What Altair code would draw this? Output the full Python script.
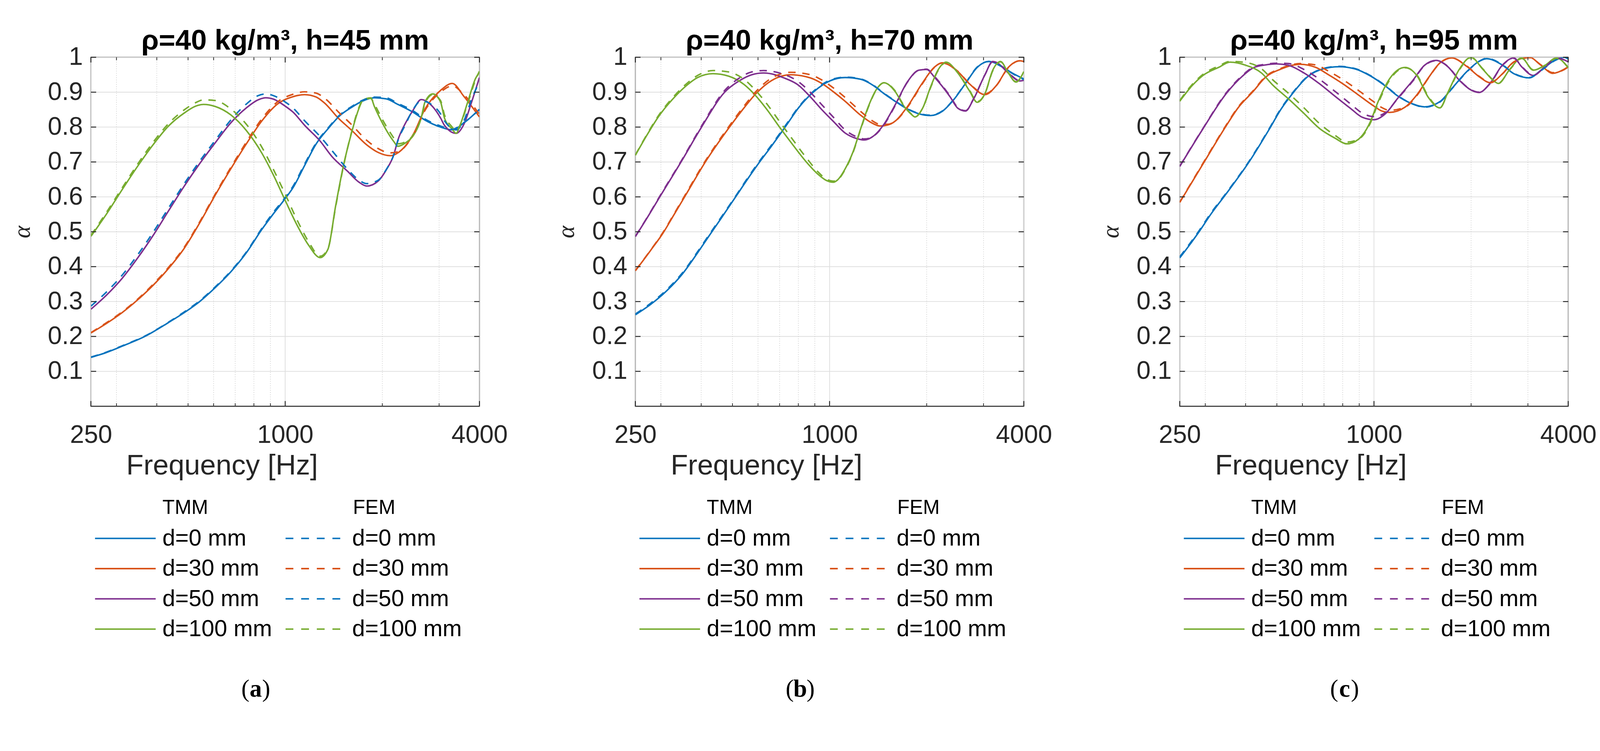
import altair as alt
import pandas as pd

BLUE, ORANGE, PURPLE, GREEN = "#0072BD", "#D95319", "#7E2F8E", "#77AC30"
INK = "#262626"
SANS = "Liberation Sans"
SERIF = "Liberation Serif"

X_TICKS = [250, 1000, 4000]
X_MINOR = [300, 400, 500, 600, 700, 800, 900, 2000, 3000]
Y_TICKS = [0.1, 0.2, 0.3, 0.4, 0.5, 0.6, 0.7, 0.8, 0.9, 1.0]

D_LABELS = ["d=0 mm", "d=30 mm", "d=50 mm", "d=100 mm"]
TITLES = ["ρ=40 kg/m³, h=45 mm", "ρ=40 kg/m³, h=70 mm", "ρ=40 kg/m³, h=95 mm"]
LETTERS = ["a", "b", "c"]
TMM_COLORS = [BLUE, ORANGE, PURPLE, GREEN]
# panel (a) draws the FEM d=50 mm curve in blue
FEM_COLORS = [[BLUE, ORANGE, BLUE, GREEN],
              [BLUE, ORANGE, PURPLE, GREEN],
              [BLUE, ORANGE, PURPLE, GREEN]]

# ---- (a) h=45 mm ----
A_F_D0 = [250, 279, 312, 369, 435, 486, 543, 607, 678, 758, 847, 920, 1000, 1057, 1149, 1248, 1357, 1474,
          1602, 1741, 1892, 2056, 2234, 2497, 2713, 3031, 3294, 3580, 4000]
A_TMM_D0 = [.140, .154, .172, .201, .240, .268, .300, .340, .385, .440, .507, .552, .595, .626, .690, .752, .795,
            .832, .856, .875, .884, .881, .865, .842, .820, .800, .792, .812, .851]
A_FEM_D0 = [.141, .155, .173, .202, .241, .270, .302, .342, .387, .442, .510, .556, .598, .630, .694, .755, .797,
            .834, .858, .877, .886, .884, .868, .846, .823, .803, .794, .813, .850]

A_F_D30 = [250, 279, 312, 349, 390, 435, 486, 543, 607, 678, 758, 847, 946, 1057, 1149, 1248, 1320, 1474, 1602,
           1790, 1945, 2114, 2234, 2497, 2713, 3031, 3294, 3580, 4000]
A_TMM_D30 = [.210, .237, .268, .305, .347, .395, .452, .525, .605, .680, .752, .818, .866, .887, .893, .886, .870,
             .822, .792, .749, .727, .718, .726, .780, .852, .905, .925, .888, .829]
A_FEM_D30 = [.211, .239, .270, .307, .350, .398, .455, .528, .608, .684, .757, .824, .872, .894, .901, .897, .884,
             .840, .808, .762, .738, .726, .729, .778, .848, .900, .918, .893, .836]

A_F_D50 = [250, 279, 312, 349, 390, 435, 486, 543, 607, 678, 758, 824, 871, 920, 1000, 1057, 1149, 1283, 1395,
           1558, 1694, 1790, 1945, 2056, 2173, 2234, 2362, 2497, 2639, 2868, 3031, 3117, 3387, 3580, 3784, 4000]
A_TMM_D50 = [.278, .318, .366, .425, .490, .560, .630, .695, .755, .812, .855, .878, .884, .880, .860, .843, .805,
             .760, .716, .674, .642, .631, .646, .677, .722, .762, .812, .850, .879, .858, .826, .805, .782, .808,
             .872, .942]
A_FEM_D50 = [.287, .327, .375, .434, .499, .568, .637, .702, .762, .820, .866, .890, .895, .890, .872, .855, .818,
             .773, .733, .680, .648, .638, .648, .678, .722, .760, .808, .852, .875, .862, .838, .818, .792, .818,
             .880, .930]

A_F_D100 = [250, 279, 312, 349, 390, 435, 486, 528, 558, 607, 678, 758, 847, 920, 1000, 1087, 1181, 1283, 1357,
            1434, 1516, 1602, 1694, 1741, 1840, 1892, 2000, 2173, 2234, 2362, 2497, 2639, 2713, 2868, 3031, 3117,
            3294, 3387, 3482, 3680, 3890, 4000]
A_TMM_D100 = [.487, .550, .620, .688, .750, .803, .840, .860, .865, .859, .835, .790, .725, .662, .590, .520, .462,
              .426, .450, .575, .690, .780, .854, .877, .884, .858, .812, .758, .745, .755, .776, .826, .872, .895,
              .872, .826, .794, .782, .805, .872, .939, .957]
A_FEM_D100 = [.490, .555, .625, .694, .757, .810, .849, .870, .878, .876, .852, .808, .742, .678, .608, .535, .472,
              .430, .452, .572, .688, .782, .857, .878, .882, .865, .822, .768, .752, .758, .778, .826, .868, .893,
              .876, .835, .800, .788, .805, .868, .935, .960]

# ---- (b) h=70 mm ----
B_F_D0 = [250, 279, 312, 349, 390, 423, 460, 514, 558, 607, 660, 737, 801, 895, 1000, 1117, 1248, 1357, 1474,
          1602, 1741, 1892, 2056, 2234, 2428, 2639, 2868, 3117, 3387, 3680, 4000]
B_TMM_D0 = [.262, .292, .330, .378, .440, .488, .537, .603, .652, .700, .745, .807, .855, .902, .932, .942, .937,
            .921, .896, .873, .852, .838, .833, .845, .879, .925, .971, .988, .976, .955, .938]
B_FEM_D0 = [.264, .295, .333, .381, .443, .491, .540, .605, .655, .703, .748, .810, .857, .904, .934, .943, .938,
            .922, .897, .874, .853, .839, .834, .846, .880, .926, .972, .988, .975, .954, .936]

B_F_D30 = [250, 279, 304, 330, 358, 412, 486, 543, 590, 660, 758, 871, 946, 1028, 1117, 1248, 1357, 1434, 1516,
           1602, 1741, 1945, 2114, 2234, 2497, 2713, 3031, 3294, 3580, 3890, 4000]
B_TMM_D30 = [.388, .447, .495, .550, .605, .700, .796, .855, .895, .933, .950, .941, .925, .901, .874, .834, .811,
             .803, .806, .818, .858, .928, .972, .984, .959, .924, .893, .920, .971, .990, .988]
B_FEM_D30 = [.389, .448, .497, .552, .608, .703, .800, .860, .901, .940, .957, .950, .935, .912, .885, .845, .818,
             .808, .808, .818, .856, .926, .971, .984, .960, .925, .895, .920, .970, .990, .989]

B_F_D50 = [250, 272, 295, 349, 401, 473, 528, 574, 624, 678, 717, 801, 871, 946, 1028, 1117, 1214, 1283, 1357,
           1474, 1602, 1741, 1892, 2000, 2114, 2362, 2497, 2639, 2790, 3031, 3204, 3294, 3580, 3890, 4000]
B_TMM_D50 = [.486, .540, .594, .705, .800, .900, .934, .950, .955, .950, .942, .920, .887, .850, .816, .783, .767,
             .763, .772, .808, .866, .929, .963, .965, .943, .887, .854, .846, .879, .950, .988, .985, .955, .932,
             .934]
B_FEM_D50 = [.487, .541, .596, .707, .803, .905, .942, .958, .962, .958, .952, .930, .900, .864, .828, .792, .772,
             .766, .772, .806, .864, .928, .963, .966, .945, .889, .856, .847, .880, .950, .987, .985, .956, .933,
             .935]

B_F_D100 = [250, 272, 295, 330, 358, 390, 435, 486, 543, 590, 641, 697, 758, 847, 920, 973, 1028, 1057, 1117,
            1181, 1248, 1320, 1395, 1474, 1602, 1694, 1790, 1840, 1945, 2056, 2173, 2297, 2497, 2713, 2868, 3031,
            3204, 3387, 3580, 3784, 4000]
B_TMM_D100 = [.719, .778, .830, .885, .917, .942, .953, .946, .922, .890, .849, .802, .757, .700, .665, .648, .642,
              .648, .680, .728, .795, .860, .907, .927, .900, .862, .837, .829, .855, .915, .965, .986, .955, .904,
              .871, .896, .963, .988, .955, .929, .959]
B_FEM_D100 = [.720, .780, .833, .889, .922, .948, .962, .958, .937, .905, .865, .818, .772, .712, .672, .652, .645,
              .648, .678, .726, .793, .858, .906, .927, .902, .864, .838, .830, .855, .913, .963, .985, .956, .906,
              .873, .896, .961, .987, .956, .930, .958]

# ---- (c) h=95 mm ----
C_F_D0 = [250, 272, 287, 312, 349, 412, 473, 514, 558, 624, 697, 779, 871, 973, 1087, 1181, 1320, 1434, 1602,
          1741, 1945, 2114, 2234, 2497, 2713, 3031, 3294, 3680, 3890, 4000]
C_TMM_D0 = [.425, .470, .500, .550, .610, .703, .793, .850, .895, .945, .967, .973, .967, .947, .917, .890, .866,
            .858, .873, .910, .960, .988, .996, .978, .953, .941, .963, .994, 1.0, .995]
C_FEM_D0 = [.428, .473, .503, .553, .612, .705, .795, .852, .897, .946, .968, .974, .968, .948, .918, .891, .866,
            .857, .872, .909, .959, .988, .997, .979, .954, .942, .962, .993, .999, .996]

C_F_D30 = [250, 295, 349, 379, 423, 460, 514, 558, 590, 660, 717, 801, 895, 1000, 1057, 1117, 1248, 1357, 1474,
           1602, 1741, 1945, 2114, 2297, 2497, 2713, 3031, 3294, 3580, 3890, 4000]
C_TMM_D30 = [.584, .694, .805, .855, .903, .942, .966, .977, .980, .971, .952, .924, .892, .860, .846, .842, .857,
             .892, .941, .984, .998, .973, .945, .927, .952, .987, 1.0, .977, .954, .966, .973]
C_FEM_D30 = [.585, .696, .807, .857, .905, .944, .968, .979, .982, .978, .962, .936, .905, .872, .856, .848, .857,
             .890, .940, .983, .998, .974, .946, .928, .952, .986, .999, .978, .956, .965, .972]

C_F_D50 = [250, 295, 349, 390, 423, 460, 500, 543, 607, 678, 758, 847, 920, 1000, 1087, 1181, 1320, 1434, 1558,
           1694, 1840, 2000, 2114, 2297, 2497, 2713, 2868, 3117, 3387, 3680, 4000]
C_TMM_D50 = [.687, .795, .897, .945, .970, .978, .981, .977, .955, .924, .888, .853, .828, .821, .839, .881, .934,
             .977, .991, .973, .934, .906, .899, .927, .977, .998, .973, .948, .973, .998, .987]
C_FEM_D50 = [.688, .796, .899, .947, .972, .980, .983, .982, .965, .937, .902, .866, .840, .830, .842, .880, .932,
             .976, .990, .974, .935, .907, .900, .926, .976, .997, .974, .949, .972, .997, .988]

C_F_D100 = [250, 272, 295, 330, 358, 401, 448, 486, 543, 607, 678, 758, 824, 895, 973, 1028, 1117, 1248, 1357,
            1474, 1602, 1694, 1840, 2000, 2173, 2362, 2428, 2639, 2868, 3117, 3387, 3680, 4000]
C_TMM_D100 = [.874, .917, .948, .971, .986, .977, .955, .920, .881, .839, .796, .768, .752, .765, .814, .871, .938,
              .971, .948, .885, .855, .899, .966, 1.0, .966, .931, .925, .966, .998, .963, .977, .998, .970]
C_FEM_D100 = [.876, .920, .951, .975, .988, .985, .967, .935, .897, .855, .810, .776, .757, .765, .810, .866, .934,
              .970, .950, .888, .856, .897, .964, .999, .967, .932, .926, .965, .997, .964, .976, .997, .971]

PANELS = [
    [(A_F_D0, A_TMM_D0, A_FEM_D0), (A_F_D30, A_TMM_D30, A_FEM_D30),
     (A_F_D50, A_TMM_D50, A_FEM_D50), (A_F_D100, A_TMM_D100, A_FEM_D100)],
    [(B_F_D0, B_TMM_D0, B_FEM_D0), (B_F_D30, B_TMM_D30, B_FEM_D30),
     (B_F_D50, B_TMM_D50, B_FEM_D50), (B_F_D100, B_TMM_D100, B_FEM_D100)],
    [(C_F_D0, C_TMM_D0, C_FEM_D0), (C_F_D30, C_TMM_D30, C_FEM_D30),
     (C_F_D50, C_TMM_D50, C_FEM_D50), (C_F_D100, C_TMM_D100, C_FEM_D100)],
]

W, H = 1044, 938
GAP = 150      # plot bottom -> legend block top
LH = 640       # legend block height
DASH = [20, 18]


def make_panel(i):
    rows, leg = [], []
    for k, (freqs, tmm, fem) in enumerate(PANELS[i]):
        lab = D_LABELS[k]
        for f, a in zip(freqs, tmm):
            rows.append(dict(f=f, alpha=a, method="TMM", series="TMM " + lab, color=TMM_COLORS[k]))
        for f, a in zip(freqs, fem):
            rows.append(dict(f=f, alpha=a, method="FEM", series="FEM " + lab, color=FEM_COLORS[i][k]))
        leg.append(dict(row=lab, label=lab, method="TMM", color=TMM_COLORS[k]))
        leg.append(dict(row=lab, label=lab, method="FEM", color=FEM_COLORS[i][k]))
    df = pd.DataFrame(rows)
    leg_df = pd.DataFrame(leg)
    ydf = pd.DataFrame({"v": Y_TICKS})
    xmaj = pd.DataFrame({"f": X_TICKS})
    xmin = pd.DataFrame({"f": X_MINOR})

    xs = alt.Scale(type="log", domain=[250, 4000], nice=False)
    ys = alt.Scale(domain=[0, 1], nice=False)

    # same axis spec in every layer so the merged axes stay enabled
    x_axis = alt.Axis(values=X_TICKS, format="d", labelFlush=False, labelOverlap=False,
                      labelFontSize=68, labelFont=SANS, labelColor=INK, labelPadding=44,
                      domain=False, ticks=False, grid=False,
                      title="Frequency [Hz]", titleFont=SANS, titleFontSize=76,
                      titleFontWeight="normal", titleColor=INK,
                      titleX=352, titleY=160, titleBaseline="middle")
    y_axis = alt.Axis(values=Y_TICKS, format=".1~f", labelFlush=False, labelOverlap=False,
                      labelFontSize=68, labelFont=SANS, labelColor=INK, labelPadding=22,
                      domain=False, ticks=False, grid=False,
                      title="α", titleFont=SERIF, titleFontStyle="italic", titleFontSize=64,
                      titleFontWeight="normal", titleColor=INK, titlePadding=36)
    X = alt.X("f:Q", scale=xs, axis=x_axis)
    YV = alt.Y("v:Q", scale=ys, axis=y_axis)

    ygrid = alt.Chart(ydf).mark_rule(color="#dedede", strokeWidth=2).encode(
        y=YV, x=alt.value(0), x2=alt.value(W))
    xgrid = alt.Chart(xmaj).mark_rule(color="#dedede", strokeWidth=2).encode(
        x=X, y=alt.value(0), y2=alt.value(H))
    xgrid_minor = alt.Chart(xmin).mark_rule(color="#c4c4c4", strokeWidth=1.5, strokeDash=[2, 4]).encode(
        x=X, y=alt.value(0), y2=alt.value(H))

    tick = dict(color=INK, strokeWidth=2.5)
    yt_l = alt.Chart(ydf).mark_rule(**tick).encode(y=YV, x=alt.value(0), x2=alt.value(14))
    yt_r = alt.Chart(ydf).mark_rule(**tick).encode(y=YV, x=alt.value(W - 14), x2=alt.value(W))
    xt_b = alt.Chart(xmaj).mark_rule(**tick).encode(x=X, y=alt.value(H - 14), y2=alt.value(H))
    xt_t = alt.Chart(xmaj).mark_rule(**tick).encode(x=X, y=alt.value(0), y2=alt.value(14))
    xm_b = alt.Chart(xmin).mark_rule(color=INK, strokeWidth=2).encode(x=X, y=alt.value(H - 8), y2=alt.value(H))
    xm_t = alt.Chart(xmin).mark_rule(color=INK, strokeWidth=2).encode(x=X, y=alt.value(0), y2=alt.value(8))

    tmm = alt.Chart(df).transform_filter(alt.datum.method == "TMM").mark_line(
        interpolate="monotone", strokeWidth=4, clip=True).encode(
        x=X, y=alt.Y("alpha:Q", scale=ys, axis=y_axis),
        color=alt.Color("color:N", scale=None), detail="series:N")
    fem = alt.Chart(df).transform_filter(alt.datum.method == "FEM").mark_line(
        interpolate="monotone", strokeWidth=4, strokeDash=DASH, clip=True).encode(
        x=X, y=alt.Y("alpha:Q", scale=ys, axis=y_axis),
        color=alt.Color("color:N", scale=None), detail="series:N")

    plot = alt.layer(ygrid, xgrid, xgrid_minor, tmm, fem, yt_l, yt_r, xt_b, xt_t, xm_b, xm_t).properties(
        width=W, height=H,
        view=alt.ViewBackground(stroke=INK, strokeWidth=2.5),
        title=alt.TitleParams(TITLES[i], font=SANS, fontSize=76, fontWeight="bold", color="black",
                              anchor="middle", frame="group", offset=-29))

    # legend block under the plot: TMM (solid) and FEM (dashed) columns
    ls = alt.Scale(type="point", domain=["hdr"] + D_LABELS, range=[124, 449], padding=0)
    ly = alt.Y("row:N", scale=ls, axis=None)
    hdr = pd.DataFrame({"row": ["hdr", "hdr"], "label": ["TMM", "FEM"], "method": ["TMM", "FEM"]})
    txt = dict(align="left", baseline="middle", font=SANS, color="black")
    l_tmm = alt.Chart(leg_df).transform_filter(alt.datum.method == "TMM").mark_rule(strokeWidth=4).encode(
        y=ly, x=alt.value(11), x2=alt.value(174), color=alt.Color("color:N", scale=None))
    l_fem = alt.Chart(leg_df).transform_filter(alt.datum.method == "FEM").mark_rule(
        strokeWidth=4, strokeDash=[21, 21]).encode(
        y=ly, x=alt.value(523), x2=alt.value(671), color=alt.Color("color:N", scale=None))
    t_tmm = alt.Chart(leg_df).transform_filter(alt.datum.method == "TMM").mark_text(
        fontSize=62, **txt).encode(y=ly, x=alt.value(192), text="label:N")
    t_fem = alt.Chart(leg_df).transform_filter(alt.datum.method == "FEM").mark_text(
        fontSize=62, **txt).encode(y=ly, x=alt.value(702), text="label:N")
    h_tmm = alt.Chart(hdr).transform_filter(alt.datum.method == "TMM").mark_text(
        fontSize=54, **txt).encode(y=ly, x=alt.value(192), text="label:N")
    h_fem = alt.Chart(hdr).transform_filter(alt.datum.method == "FEM").mark_text(
        fontSize=54, **txt).encode(y=ly, x=alt.value(704), text="label:N")

    # caption "(a)" with a bold letter
    cap = pd.DataFrame({"letter": [LETTERS[i]]})
    ctxt = dict(baseline="middle", font=SERIF, fontSize=66, color="black")
    c_l = alt.Chart(cap).mark_text(text="(", align="right", **ctxt).encode(
        x=alt.value(443 - 17), y=alt.value(611))
    c_m = alt.Chart(cap).mark_text(align="center", fontWeight="bold", **ctxt).encode(
        x=alt.value(443), y=alt.value(611), text="letter:N")
    c_r = alt.Chart(cap).mark_text(text=")", align="left", **ctxt).encode(
        x=alt.value(443 + 17), y=alt.value(611))

    legend = alt.layer(l_tmm, l_fem, t_tmm, t_fem, h_tmm, h_fem, c_l, c_m, c_r).properties(
        width=W, height=LH)

    return alt.vconcat(plot, legend, spacing=GAP, bounds="flush")


chart = alt.hconcat(*[make_panel(i) for i in range(3)], spacing=124).properties(
    padding={"left": 18, "top": 16, "right": 0, "bottom": 0}
).configure_view(strokeWidth=0)

chart.save("out.html", embed_options={"renderer": "svg", "actions": False})
